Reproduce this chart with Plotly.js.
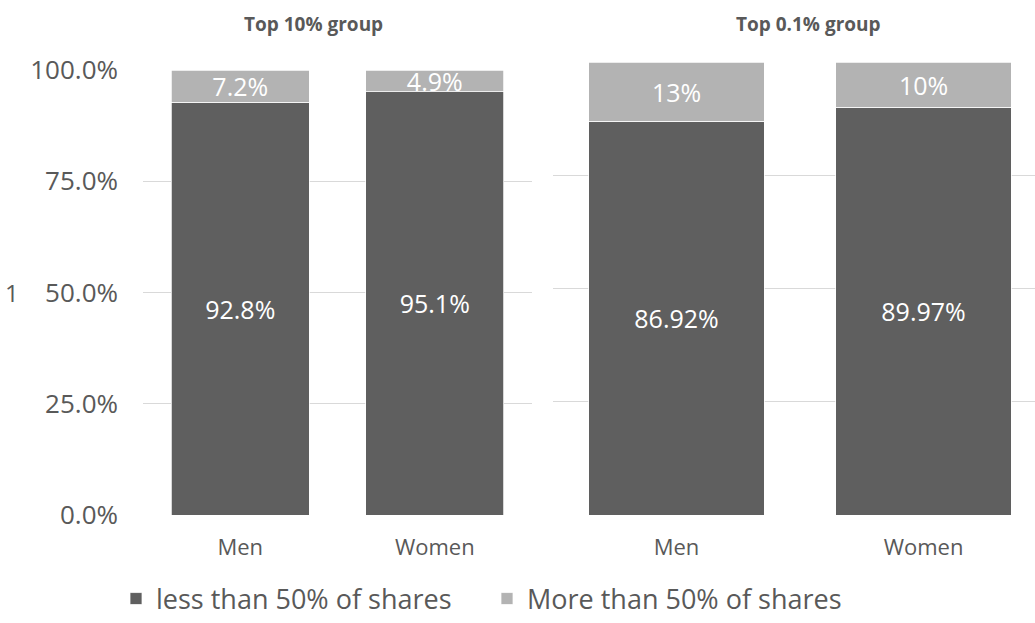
<!DOCTYPE html>
<html>
<head>
<meta charset="utf-8">
<script src="https://cdn.plot.ly/plotly-3.0.1.min.js"></script>
<style>
  html, body { margin: 0; padding: 0; background: #ffffff; }
  #chart { width: 1035px; height: 623px; }
</style>
</head>
<body>
<div id="chart"></div>
<script>
// ---- data ----
const categories = ['Men', 'Women'];
const top10Less = [0.928, 0.951];
const top10More = [0.072, 0.049];
const top01Less = [0.8692, 0.8997];
const top01More = [0.1308, 0.1003];
const seriesNames = ['less than 50% of shares', 'More than 50% of shares'];
const panelTitles = ['Top 10% group', 'Top 0.1% group'];
const yTicks = [0, 0.25, 0.5, 0.75, 1.0];

const darkColor = '#5f5f5f';
const lightColor = '#b3b3b3';
const textColor = '#595959';
const gridColor = '#d9d9d9';
const FONT = '"Open Sans", "Noto Sans", sans-serif';

function barTrace(y, name, color, xa, ya, fmt, showLegend) {
  return {
    type: 'bar', x: categories, y: y, name: name,
    xaxis: xa, yaxis: ya,
    marker: { color: color, line: { color: '#ffffff', width: 0.75 } },
    texttemplate: fmt, textposition: 'inside', insidetextanchor: 'middle',
    textangle: 0, constraintext: 'none', cliponaxis: false,
    textfont: { color: '#ffffff', size: 25, family: FONT },
    legendgroup: name, showlegend: showLegend,
    hoverinfo: 'skip'
  };
}

const traces = [
  barTrace(top10Less, seriesNames[0], darkColor, 'x', 'y', '%{y:.1%}', true),
  barTrace(top10More, seriesNames[1], lightColor, 'x', 'y', '%{y:.1%}', true),
  barTrace(top01Less, seriesNames[0], darkColor, 'x2', 'y2', '%{y:.2%}', false),
  barTrace(top01More, seriesNames[1], lightColor, 'x2', 'y2', '%{y:.0%}', false)
];

const W = 1035, H = 623;
const px = v => v / W;
const py = v => 1 - v / H;

const layout = {
  width: W, height: H,
  margin: { l: 0, r: 0, t: 0, b: 0, autoexpand: false },
  paper_bgcolor: '#ffffff', plot_bgcolor: 'rgba(0,0,0,0)',
  barmode: 'stack', bargap: 0.29,
  font: { family: FONT, color: textColor },
  xaxis: {
    domain: [px(143), px(532)], anchor: 'y',
    range: [-0.5, 1.5], showgrid: false, zeroline: false, showline: false,
    ticks: '', tickfont: { size: 22, color: textColor }, ticklabelstandoff: 17,
    fixedrange: true
  },
  yaxis: {
    domain: [py(515), py(70)], anchor: 'x',
    range: [0, 1], tickvals: yTicks, tickformat: '.1%',
    showgrid: true, gridcolor: gridColor, gridwidth: 1.3, zeroline: false, showline: false,
    ticks: '', tickfont: { size: 26, color: textColor }, ticklabelstandoff: 24,
    fixedrange: true
  },
  xaxis2: {
    domain: [px(553), 1], anchor: 'y2',
    range: [-0.5, -0.5 + 482 / 247], showgrid: false, zeroline: false, showline: false,
    ticks: '', tickfont: { size: 22, color: textColor }, ticklabelstandoff: 17,
    fixedrange: true
  },
  yaxis2: {
    domain: [py(515), py(62)], anchor: 'x2',
    range: [0, 1], tickvals: yTicks, showticklabels: false,
    showgrid: true, gridcolor: gridColor, gridwidth: 1.3, zeroline: false, showline: false,
    fixedrange: true
  },
  legend: {
    orientation: 'h', x: px(116), xanchor: 'left', y: py(599), yanchor: 'middle',
    font: { size: 27, color: textColor, family: FONT },
    entrywidth: 326, itemwidth: 30,
    traceorder: 'normal', itemclick: false, itemdoubleclick: false
  },
  annotations: [
    { text: panelTitles[0], xref: 'paper', yref: 'paper',
      x: px(313), y: py(24), xanchor: 'center', yanchor: 'middle', showarrow: false,
      font: { size: 19, color: textColor, family: FONT, weight: 700 } },
    { text: panelTitles[1], xref: 'paper', yref: 'paper',
      x: px(808), y: py(24), xanchor: 'center', yanchor: 'middle', showarrow: false,
      font: { size: 19, color: textColor, family: FONT, weight: 700 } },
    { text: '1', xref: 'paper', yref: 'paper',
      x: px(12), y: py(292), xanchor: 'center', yanchor: 'middle', showarrow: false,
      font: { size: 24, color: textColor, family: FONT } }
  ]
};

Plotly.newPlot('chart', traces, layout, { displayModeBar: false, staticPlot: true });
</script>
</body>
</html>
